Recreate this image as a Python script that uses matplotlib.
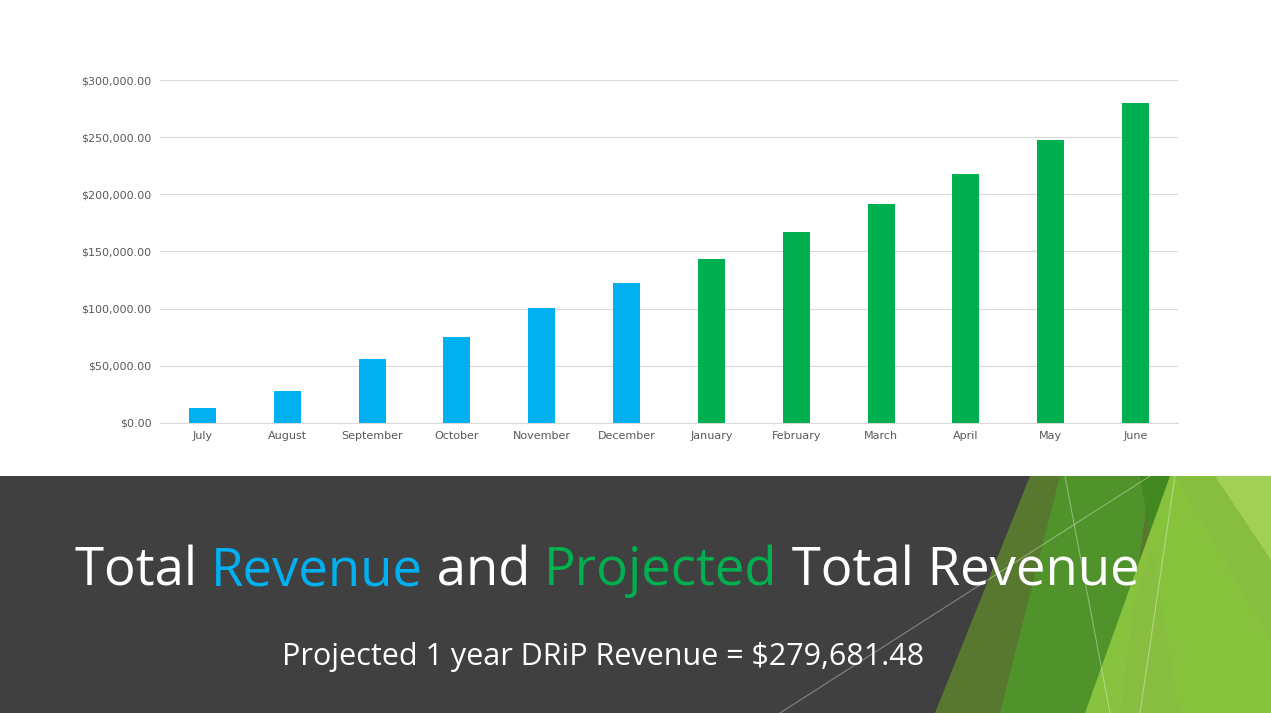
import matplotlib
matplotlib.use("Agg")
import matplotlib.pyplot as plt
from matplotlib.patches import Polygon, Rectangle
from matplotlib.lines import Line2D

months = ["July","August","September","October","November","December",
          "January","February","March","April","May","June"]
revenue = [13100, 28000, 56000, 75500, 100800, 122500,
           143500, 167000, 191500, 218000, 247500, 279681.48]
actual_count = 6
blue = "#00b0f0"
green = "#00b050"

W, H = 1271, 713
fig = plt.figure(figsize=(W/100, H/100), dpi=100)
fig.patch.set_facecolor("white")

def fx(x): return x / W
def fy(y): return 1 - y / H

# dark band
fig.patches.append(Rectangle((0, 0), 1, fy(476), transform=fig.transFigure,
                             facecolor="#404040", edgecolor="none", zorder=0))
polys = [
    ([(1030,476),(1175,476),(1100,713),(935,713)], "#5b7f2f", 0.9),
    ([(1060,476),(1150,476),(1120,713),(1000,713)], "#4f9a2a", 0.8),
    ([(1140,476),(1175,476),(1271,640),(1271,713),(1180,713)], "#3f8a1f", 0.9),
    ([(1170,476),(1271,476),(1271,713),(1085,713)], "#8cc63f", 0.95),
    ([(1215,476),(1271,476),(1271,560)], "#a5d35a", 0.9),
]
for pts, c, a in polys:
    fig.patches.append(Polygon([(fx(x), fy(y)) for x, y in pts], closed=True,
                               transform=fig.transFigure, facecolor=c,
                               edgecolor="none", alpha=a, zorder=1))
for (x0,y0,x1,y1) in [(780,713,1150,476),(1065,476,1110,713),(1175,476,1140,713)]:
    fig.lines.append(Line2D([fx(x0),fx(x1)],[fy(y0),fy(y1)], transform=fig.transFigure,
                            color="white", alpha=0.35, lw=0.8, zorder=2))

ax = fig.add_axes([fx(160), fy(423), fx(1178)-fx(160), fy(80)-fy(423)])
colors = [blue]*actual_count + [green]*(len(months)-actual_count)
ax.bar(range(len(months)), revenue, width=0.32, color=colors, zorder=3)
ax.set_xlim(-0.5, len(months)-0.5)
ax.set_ylim(0, 300000)
ax.set_yticks(range(0, 300001, 50000))
ax.set_yticklabels([f"${v:,.2f}" for v in range(0, 300001, 50000)], fontsize=8, color="#595959")
ax.set_xticks(range(len(months)))
ax.set_xticklabels(months, fontsize=8, color="#595959")
ax.grid(axis="y", color="#d9d9d9", lw=0.8, zorder=0)
for s in ["top","right","left"]:
    ax.spines[s].set_visible(False)
ax.spines["bottom"].set_color("#d9d9d9")
ax.tick_params(length=0, pad=6)

# title with coloured words
fam = "Open Sans"
parts = [("Total ", "white"), ("Revenue", blue), (" and ", "white"),
         ("Projected", green), (" Total Revenue", "white")]
fig.canvas.draw()
r = fig.canvas.get_renderer()
x = fx(75)
for t, c in parts:
    txt = fig.text(x, fy(585), t, color=c, fontsize=38, family=fam, va="baseline", zorder=5)
    bb = txt.get_window_extent(renderer=r)
    x += bb.width / W
fig.text(fx(603), fy(665), "Projected 1 year DRiP Revenue = $279,681.48", color="white",
         fontsize=22, family=fam, ha="center", va="baseline", zorder=5)

fig.savefig("out.png", dpi=100, facecolor=fig.get_facecolor())
